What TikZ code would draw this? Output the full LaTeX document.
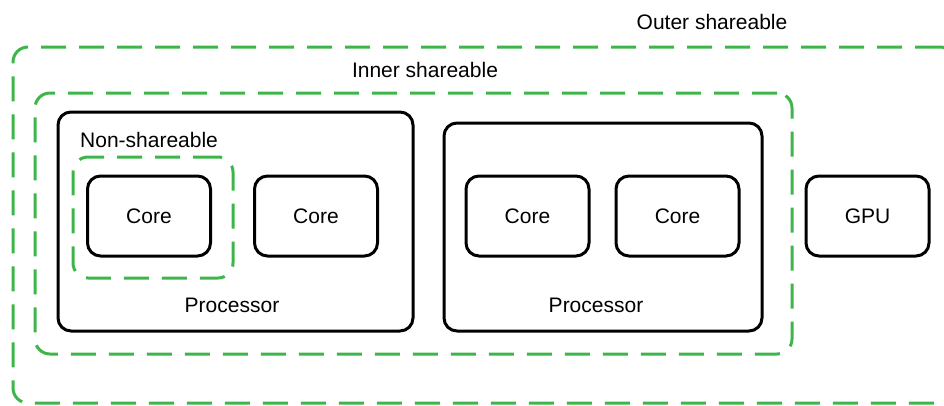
\documentclass[tikz,border=0pt]{standalone}
\usepackage{fontspec}
\setmainfont{Liberation Sans}
\definecolor{grn}{RGB}{62,181,74}
\begin{document}
\begin{tikzpicture}[x=1pt,y=-1pt,
  lbl/.style={inner sep=0pt, font=\fontsize{21}{25}\selectfont},
  box/.style={draw=black, line width=3pt, rounded corners=13pt, inner sep=0pt, font=\fontsize{21}{25}\selectfont},
  zone/.style={draw=grn, line width=3pt, rounded corners=15pt, dash pattern=on 25pt off 13pt, inner sep=0pt},
]
\useasboundingbox (0,0) rectangle (944,405);
\clip (0,0) rectangle (944,405);
% zones
\node[zone, minimum width=942pt, minimum height=356pt] (outer) at (484,225) {};
\node[zone, minimum width=757pt, minimum height=261pt] (inner) at (413.5,223.5) {};
% processors
\node[box, minimum width=355pt, minimum height=219pt] (p1) at (235.5,221.5) {};
\node[box, minimum width=318pt, minimum height=208pt] (p2) at (603,227) {};
\node[zone, minimum width=160pt, minimum height=121pt] (non) at (153,217.5) {};
% cores
\node[box, minimum width=123pt, minimum height=80pt] (c1) at (149,216) {Core};
\node[box, minimum width=123pt, minimum height=80pt] (c2) at (316,216) {Core};
\node[box, minimum width=123pt, minimum height=80pt] (c3) at (527.5,216) {Core};
\node[box, minimum width=123pt, minimum height=80pt] (c4) at (677.5,216) {Core};
\node[box, minimum width=123pt, minimum height=80pt] (gpu) at (867.5,216) {GPU};
% labels
\node[lbl] (louter) at (712,22) {Outer shareable};
\node[lbl] (linner) at (425,70) {Inner shareable};
\node[lbl, anchor=west] (lnon) at (80,140) {Non-shareable};
\node[lbl] (lp1) at (232,305) {Processor};
\node[lbl] (lp2) at (596,305) {Processor};
\end{tikzpicture}
\end{document}
